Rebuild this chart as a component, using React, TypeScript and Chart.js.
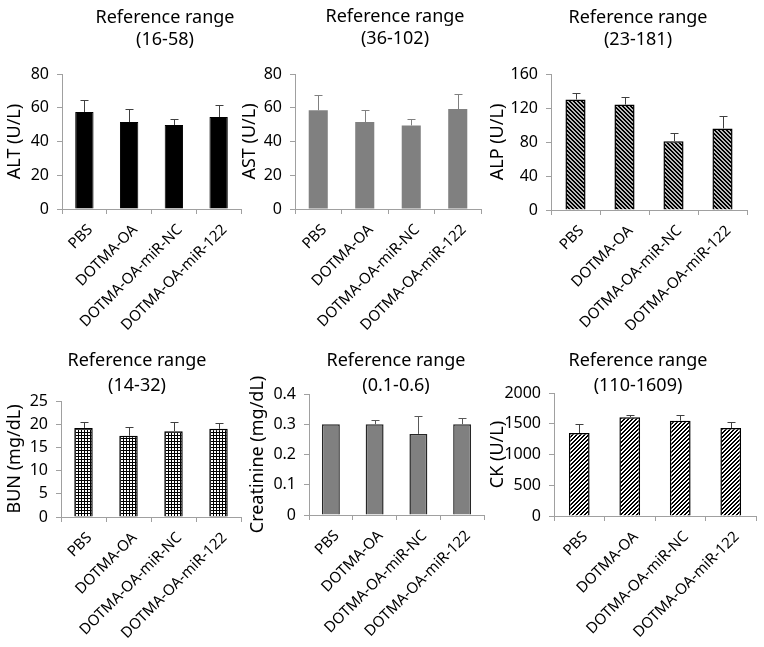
import React, { useEffect, useRef } from 'react';
import { Chart, registerables } from 'chart.js';

Chart.register(...registerables);

// ---------- data ----------
const categories = ['PBS', 'DOTMA-OA', 'DOTMA-OA-miR-NC', 'DOTMA-OA-miR-122'];

const altMeans = [57.5, 51.5, 49.8, 54.5];
const altErrors = [7.3, 7.5, 3.8, 7.2];

const astMeans = [58.5, 51.5, 49.5, 59.2];
const astErrors = [9, 7.2, 4, 9];

const alpMeans = [130, 124, 81, 96];
const alpErrors = [7.5, 9.5, 9.5, 15];

const bunMeans = [19.2, 17.5, 18.5, 19.0];
const bunErrors = [1.3, 2.0, 2.0, 1.3];

const creMeans = [0.3, 0.3, 0.268, 0.3];
const creErrors = [0, 0.015, 0.058, 0.02];

const ckMeans = [1350, 1605, 1550, 1430];
const ckErrors = [140, 45, 85, 95];

const referenceRanges = ['(16-58)', '(36-102)', '(23-181)', '(14-32)', '(0.1-0.6)', '(110-1609)'];
const yTitles = ['ALT (U/L)', 'AST (U/L)', 'ALP (U/L)', 'BUN (mg/dL)', 'Creatinine (mg/dL)', 'CK (U/L)'];
const yMaxima = [80, 80, 160, 25, 0.4, 2000];
const ySteps = [20, 20, 40, 5, 0.1, 500];

// ---------- styling ----------
const FONT = "'Noto Sans', 'Liberation Sans', Arial, sans-serif";
const AXIS = '#a0a0a0';

function makePattern(kind: string): CanvasPattern | string {
  const size = kind === 'grid' ? 3 : 4;
  const c = document.createElement('canvas');
  c.width = size;
  c.height = size;
  const g = c.getContext('2d');
  if (!g) return '#808080';
  for (let y = 0; y < size; y++) {
    for (let x = 0; x < size; x++) {
      let col = '#ffffff';
      if (kind === 'down') col = ((x - y + 8) % 4) < 2 ? '#000000' : '#b8b8b8';
      else if (kind === 'up') col = ((x + y) % 4) < 2 ? '#000000' : '#ffffff';
      else if (kind === 'grid') col = x === 0 || y === 0 ? '#000000' : '#ffffff';
      g.fillStyle = col;
      g.fillRect(x, y, 1, 1);
    }
  }
  return g.createPattern(c, 'repeat') || '#808080';
}

const errorBarPlugin = {
  id: 'errorBars',
  afterDatasetsDraw(chart: any, _args: any, opts: any) {
    const errs: number[] = opts.errors || [];
    const meta = chart.getDatasetMeta(0);
    const yScale = chart.scales.y;
    const values = chart.data.datasets[0].data as number[];
    const ctx = chart.ctx;
    ctx.save();
    ctx.strokeStyle = opts.color || '#404040';
    ctx.lineWidth = 1;
    meta.data.forEach((bar: any, i: number) => {
      const e = errs[i];
      if (!e) return;
      const x = Math.round(bar.x) + 0.5;
      const yb = yScale.getPixelForValue(values[i]);
      const yt = Math.round(yScale.getPixelForValue(values[i] + e)) + 0.5;
      ctx.beginPath();
      ctx.moveTo(x, yb);
      ctx.lineTo(x, yt);
      ctx.moveTo(x - 4, yt);
      ctx.lineTo(x + 4, yt);
      ctx.stroke();
    });
    ctx.restore();
  },
};

type PanelDef = {
  means: number[];
  errors: number[];
  idx: number;
  fill: string;
  border: string;
  borderWidth: number;
  errColor: string;
  left: number;
  top: number;
  width: number;
  height: number;
  yw: number;
  padRight: number;
  titleLH: number;
  titlePadTop: number;
  titlePadBottom: number;
  xh: number;
  yTitlePad: number;
};

const panels: PanelDef[] = [
  { means: altMeans, errors: altErrors, idx: 0, fill: '#000000', border: '#000000', borderWidth: 1, errColor: '#404040',
    left: 0, top: 0, width: 330, height: 330, yw: 62, padRight: 89, titleLH: 22, titlePadTop: 7.3, titlePadBottom: 22.7, xh: 121, yTitlePad: 4.1 },
  { means: astMeans, errors: astErrors, idx: 1, fill: '#808080', border: '#808080', borderWidth: 0, errColor: '#808080',
    left: 236, top: 0, width: 318, height: 330, yw: 59, padRight: 73, titleLH: 22, titlePadTop: 5.5, titlePadBottom: 24.5, xh: 121, yTitlePad: 2.6 },
  { means: alpMeans, errors: alpErrors, idx: 2, fill: 'down', border: '#000000', borderWidth: 1.5, errColor: '#404040',
    left: 484, top: 0, width: 308, height: 330, yw: 67, padRight: 45, titleLH: 22, titlePadTop: 7, titlePadBottom: 23, xh: 120, yTitlePad: 2.6 },
  { means: bunMeans, errors: bunErrors, idx: 3, fill: 'grid', border: '#000000', borderWidth: 1.5, errColor: '#404040',
    left: 0, top: 330, width: 274, height: 317, yw: 61, padRight: 33, titleLH: 24.5, titlePadTop: 18.75, titlePadBottom: 3.25, xh: 130, yTitlePad: 4.1 },
  { means: creMeans, errors: creErrors, idx: 4, fill: '#808080', border: '#262626', borderWidth: 1.5, errColor: '#595959',
    left: 244, top: 330, width: 304, height: 317, yw: 65, padRight: 64, titleLH: 24.5, titlePadTop: 18.75, titlePadBottom: -3.75, xh: 132, yTitlePad: 2.6 },
  { means: ckMeans, errors: ckErrors, idx: 5, fill: 'up', border: '#000000', borderWidth: 1.5, errColor: '#404040',
    left: 484, top: 330, width: 308, height: 317, yw: 70, padRight: 36, titleLH: 24.5, titlePadTop: 18.75, titlePadBottom: -4.75, xh: 131, yTitlePad: 2.6 },
];

function Panel({ p }: { p: PanelDef }) {
  const ref = useRef<HTMLCanvasElement | null>(null);
  useEffect(() => {
    if (!ref.current) return;
    const fill = p.fill.startsWith('#') ? p.fill : makePattern(p.fill);
    const chart = new Chart(ref.current, {
      type: 'bar',
      data: {
        labels: categories,
        datasets: [
          {
            data: p.means,
            backgroundColor: fill as any,
            borderColor: p.border,
            borderWidth: p.borderWidth,
            barPercentage: 0.41,
            categoryPercentage: 1,
          },
        ],
      },
      options: {
        responsive: false,
        animation: false,
        layout: { padding: { left: 0, right: 0, top: 0, bottom: 0 } },
        plugins: {
          legend: { display: false },
          tooltip: { enabled: false },
          title: {
            display: true,
            text: ['Reference range', referenceRanges[p.idx]],
            color: '#000',
            font: { family: FONT, size: 18, weight: 'normal', lineHeight: p.titleLH / 18 },
            padding: { top: p.titlePadTop, bottom: p.titlePadBottom },
          },
          errorBars: { errors: p.errors, color: p.errColor },
        } as any,
        scales: {
          x: {
            type: 'category',
            offset: true,
            grid: { offset: true, drawOnChartArea: false, drawTicks: true, tickLength: 5, color: AXIS },
            border: { color: AXIS, width: 1 },
            ticks: {
              color: '#000',
              font: { family: FONT, size: 15 },
              minRotation: 45,
              maxRotation: 45,
              autoSkip: false,
              padding: 7,
              labelOffset: 6,
            },
            afterFit: (s: any) => {
              s.height = p.xh;
            },
          },
          y: {
            min: 0,
            max: yMaxima[p.idx],
            grid: { drawOnChartArea: false, drawTicks: true, tickLength: 5, color: AXIS },
            border: { color: AXIS, width: 1 },
            ticks: {
              stepSize: ySteps[p.idx],
              color: '#000',
              font: { family: FONT, size: 16 },
              padding: 8,
              callback: (v: any) => String(Math.round(Number(v) * 1000) / 1000),
            },
            title: {
              display: true,
              text: yTitles[p.idx],
              color: '#000',
              font: { family: FONT, size: 18 },
              padding: { top: p.yTitlePad, bottom: 0 },
            },
            afterFit: (s: any) => {
              s.width = p.yw;
            },
          },
          spacer: {
            type: 'linear',
            position: 'right',
            display: true,
            grid: { display: false, drawTicks: false },
            border: { display: false },
            ticks: { display: false },
            afterFit: (s: any) => {
              s.width = p.padRight;
            },
          },
        },
      } as any,
      plugins: [errorBarPlugin as any],
    });
    return () => chart.destroy();
  }, [p]);
  return (
    <canvas
      ref={ref}
      width={p.width}
      height={p.height}
      style={{ position: 'absolute', left: p.left, top: p.top, width: p.width, height: p.height }}
    />
  );
}

export default function App() {
  return (
    <div
      style={{
        position: 'absolute',
        left: 0,
        top: 0,
        width: 764,
        height: 647,
        overflow: 'hidden',
        background: '#ffffff',
      }}
    >
      {panels.map((p) => (
        <Panel key={p.idx} p={p} />
      ))}
    </div>
  );
}
